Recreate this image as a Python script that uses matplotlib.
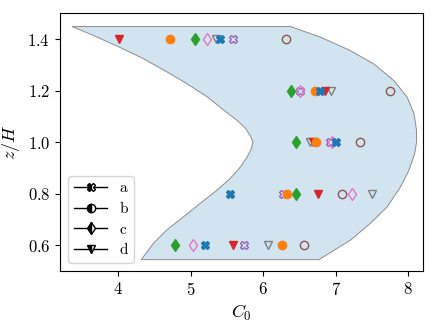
import matplotlib
matplotlib.use("Agg")
import matplotlib.pyplot as plt
from matplotlib.lines import Line2D

plt.rcParams['font.family'] = 'serif'
plt.rcParams['font.serif'] = ['cmr10', 'DejaVu Serif']
plt.rcParams['mathtext.fontset'] = 'cm'
plt.rcParams['axes.formatter.use_mathtext'] = True

z = [0.6, 0.8, 1.0, 1.2, 1.4]

# filled markers (first set) and hollow markers (second set)
a1 = [5.20, 5.54, 7.00, 6.78, 5.40]
b1 = [6.26, 6.33, 6.73, 6.71, 4.72]
c1 = [4.78, 6.46, 6.46, 6.39, 5.06]
d1 = [5.58, 6.76, 6.685, 6.86, 4.02]
a2 = [5.74, 6.27, 6.92, 6.51, 5.59]
b2 = [6.57, 7.09, 7.33, 7.75, 6.32]
c2 = [5.04, 7.22, 6.95, 6.51, 5.23]
d2 = [6.07, 7.50, 6.64, 6.94, 5.35]

# shaded envelope
lo_z = [0.544, 0.608, 0.660, 0.711, 0.763, 0.814, 0.860, 0.905, 0.943, 0.976, 1.001,
        1.021, 1.053, 1.085, 1.124, 1.176, 1.227, 1.272, 1.324, 1.369, 1.414, 1.449]
lo_c = [4.32, 4.49, 4.675, 4.905, 5.135, 5.365, 5.55, 5.69, 5.78, 5.84, 5.86,
        5.83, 5.76, 5.64, 5.46, 5.23, 4.95, 4.68, 4.35, 4.02, 3.664, 3.366]
hi_z = [0.544, 0.620, 0.685, 0.749, 0.827, 0.891, 0.956, 1.001, 1.046, 1.111,
        1.175, 1.240, 1.304, 1.356, 1.408, 1.449]
hi_c = [6.77, 7.205, 7.48, 7.71, 7.895, 8.01, 8.09, 8.115, 8.115, 8.08,
        7.985, 7.80, 7.525, 7.20, 6.79, 6.377]

labels = ['a', 'b', 'c', 'd']
markers = ['X', 'o', 'd', 'v']

fig = plt.figure(figsize=(4.36, 3.27), dpi=100)
ax = fig.add_axes([0.1376, 0.1713, 0.8319, 0.7877])

ax.fill(lo_c + hi_c[::-1], lo_z + hi_z[::-1], facecolor='#d2e4f0',
        edgecolor='0.55', linewidth=0.7, zorder=0)

hollow = [(a2, 'tab:purple', 'X'), (b2, 'tab:brown', 'o'),
          (c2, 'tab:pink', 'd'), (d2, 'tab:gray', 'v')]
filled = [(c1, 'tab:green', 'd'), (d1, 'tab:red', 'v'),
          (b1, 'tab:orange', 'o'), (a1, 'tab:blue', 'X')]

for vals, col, m in hollow:
    ax.plot(vals, z, linestyle='none', marker=m, markerfacecolor='none',
            markeredgecolor=col, markeredgewidth=1.0, markersize=6, zorder=3)
for vals, col, m in filled:
    ax.plot(vals, z, linestyle='none', marker=m, color=col, markersize=6, zorder=3)

handles = [Line2D([], [], color='k', linewidth=1, marker=m, markersize=6,
                  fillstyle='left', markerfacecoloralt='white', markeredgecolor='k')
           for m in markers]
ax.legend(handles, labels, loc='lower left', fontsize=11, handlelength=2.2,
          borderaxespad=0.5, labelspacing=0.45)

ax.set_xlim(3.2, 8.2)
ax.set_ylim(0.5, 1.5)
ax.set_xticks([4, 5, 6, 7, 8])
ax.set_yticks([0.6, 0.8, 1.0, 1.2, 1.4])
ax.tick_params(labelsize=12)
ax.set_xlabel('$C_0$', fontsize=13)
ax.set_ylabel('$z/H$', fontsize=13)

fig.savefig('out.png', dpi=100)
